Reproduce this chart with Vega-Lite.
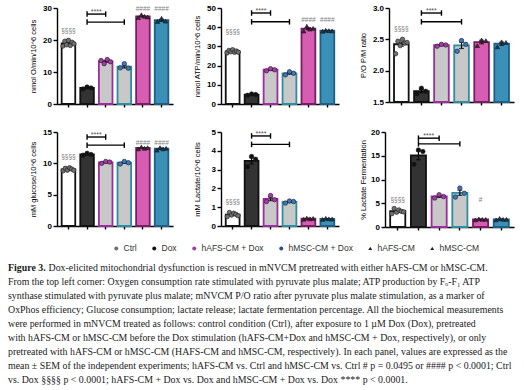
{
"$schema": "https://vega.github.io/schema/vega-lite/v6.json",
"background": "white",
"padding": {"left": 8, "top": 4, "right": 0, "bottom": 0},
"datasets": {
"d": [
{"p":"O2","k":"p","g":"Ctrl","v":18.1},{"p":"O2","k":"p","g":"Ctrl","v":19.6},{"p":"O2","k":"p","g":"Ctrl","v":18.5},{"p":"O2","k":"p","g":"Ctrl","v":19.9},{"p":"O2","k":"p","g":"Ctrl","v":18.3},{"p":"O2","k":"p","g":"Ctrl","v":19.3},{"p":"O2","k":"p","g":"Ctrl","v":18.8},
{"p":"O2","k":"p","g":"Dox","v":4.7},{"p":"O2","k":"p","g":"Dox","v":5.3},{"p":"O2","k":"p","g":"Dox","v":5.0},
{"p":"O2","k":"p","g":"hAFS-CM + Dox","v":13.6},{"p":"O2","k":"p","g":"hAFS-CM + Dox","v":12.6},{"p":"O2","k":"p","g":"hAFS-CM + Dox","v":13.9},{"p":"O2","k":"p","g":"hAFS-CM + Dox","v":13.2},
{"p":"O2","k":"p","g":"hMSC-CM + Dox","v":11.3},{"p":"O2","k":"p","g":"hMSC-CM + Dox","v":12.6},{"p":"O2","k":"p","g":"hMSC-CM + Dox","v":11.2},
{"p":"O2","k":"p","g":"hAFS-CM","v":27.0},{"p":"O2","k":"p","g":"hAFS-CM","v":27.9},{"p":"O2","k":"p","g":"hAFS-CM","v":27.4},{"p":"O2","k":"p","g":"hAFS-CM","v":27.2},
{"p":"O2","k":"p","g":"hMSC-CM","v":25.8},{"p":"O2","k":"p","g":"hMSC-CM","v":26.8},{"p":"O2","k":"p","g":"hMSC-CM","v":25.9},
{"p":"O2","k":"b","g":"Dox","g2":"hAFS-CM + Dox","v":28.1},{"p":"O2","k":"b","g":"Dox","g2":"hMSC-CM + Dox","v":25.6},
{"p":"O2","k":"s","g":"Ctrl","v":22.8,"t":"§§§§"},{"p":"O2","k":"s","g":"hAFS-CM","v":29.7,"t":"####"},{"p":"O2","k":"s","g":"hMSC-CM","v":29.7,"t":"####"},{"p":"O2","k":"a","g":"Dox","v":28.8,"t":"****"},

{"p":"ATP","k":"p","g":"Ctrl","v":26.6},{"p":"ATP","k":"p","g":"Ctrl","v":27.9},{"p":"ATP","k":"p","g":"Ctrl","v":27.2},{"p":"ATP","k":"p","g":"Ctrl","v":28.3},{"p":"ATP","k":"p","g":"Ctrl","v":26.9},{"p":"ATP","k":"p","g":"Ctrl","v":27.6},{"p":"ATP","k":"p","g":"Ctrl","v":27.0},
{"p":"ATP","k":"p","g":"Dox","v":4.5},{"p":"ATP","k":"p","g":"Dox","v":5.2},{"p":"ATP","k":"p","g":"Dox","v":4.9},
{"p":"ATP","k":"p","g":"hAFS-CM + Dox","v":17.3},{"p":"ATP","k":"p","g":"hAFS-CM + Dox","v":18.4},{"p":"ATP","k":"p","g":"hAFS-CM + Dox","v":17.8},
{"p":"ATP","k":"p","g":"hMSC-CM + Dox","v":15.2},{"p":"ATP","k":"p","g":"hMSC-CM + Dox","v":16.8},{"p":"ATP","k":"p","g":"hMSC-CM + Dox","v":16.0},
{"p":"ATP","k":"p","g":"hAFS-CM","v":38.0},{"p":"ATP","k":"p","g":"hAFS-CM","v":40.5},{"p":"ATP","k":"p","g":"hAFS-CM","v":39.0},{"p":"ATP","k":"p","g":"hAFS-CM","v":39.4},
{"p":"ATP","k":"p","g":"hMSC-CM","v":37.9},{"p":"ATP","k":"p","g":"hMSC-CM","v":38.4},{"p":"ATP","k":"p","g":"hMSC-CM","v":38.2},{"p":"ATP","k":"p","g":"hMSC-CM","v":38.1},
{"p":"ATP","k":"b","g":"Dox","g2":"hAFS-CM + Dox","v":47.4},{"p":"ATP","k":"b","g":"Dox","g2":"hMSC-CM + Dox","v":42.8},
{"p":"ATP","k":"s","g":"Ctrl","v":37.7,"t":"§§§§"},{"p":"ATP","k":"s","g":"hAFS-CM","v":44.0,"t":"####"},{"p":"ATP","k":"s","g":"hMSC-CM","v":44.0,"t":"####"},{"p":"ATP","k":"a","g":"Dox","v":48.5,"t":"****"},

{"p":"PO","k":"p","g":"Ctrl","v":2.27},{"p":"PO","k":"p","g":"Ctrl","v":2.47},{"p":"PO","k":"p","g":"Ctrl","v":2.40},{"p":"PO","k":"p","g":"Ctrl","v":2.50},{"p":"PO","k":"p","g":"Ctrl","v":2.44},{"p":"PO","k":"p","g":"Ctrl","v":2.45},
{"p":"PO","k":"p","g":"Dox","v":1.63},{"p":"PO","k":"p","g":"Dox","v":1.72},{"p":"PO","k":"p","g":"Dox","v":1.67},
{"p":"PO","k":"p","g":"hAFS-CM + Dox","v":2.39},{"p":"PO","k":"p","g":"hAFS-CM + Dox","v":2.42},{"p":"PO","k":"p","g":"hAFS-CM + Dox","v":2.41},
{"p":"PO","k":"p","g":"hMSC-CM + Dox","v":2.31},{"p":"PO","k":"p","g":"hMSC-CM + Dox","v":2.48},{"p":"PO","k":"p","g":"hMSC-CM + Dox","v":2.42},
{"p":"PO","k":"p","g":"hAFS-CM","v":2.40},{"p":"PO","k":"p","g":"hAFS-CM","v":2.49},{"p":"PO","k":"p","g":"hAFS-CM","v":2.48},
{"p":"PO","k":"p","g":"hMSC-CM","v":2.38},{"p":"PO","k":"p","g":"hMSC-CM","v":2.46},{"p":"PO","k":"p","g":"hMSC-CM","v":2.45},
{"p":"PO","k":"b","g":"Dox","g2":"hAFS-CM + Dox","v":2.92},{"p":"PO","k":"b","g":"Dox","g2":"hMSC-CM + Dox","v":2.78},
{"p":"PO","k":"s","g":"Ctrl","v":2.66,"t":"§§§§"},{"p":"PO","k":"a","g":"Dox","v":2.95,"t":"****"},

{"p":"GLC","k":"p","g":"Ctrl","v":8.8},{"p":"GLC","k":"p","g":"Ctrl","v":9.2},{"p":"GLC","k":"p","g":"Ctrl","v":8.9},{"p":"GLC","k":"p","g":"Ctrl","v":9.3},{"p":"GLC","k":"p","g":"Ctrl","v":9.1},{"p":"GLC","k":"p","g":"Ctrl","v":8.9},
{"p":"GLC","k":"p","g":"Dox","v":11.3},{"p":"GLC","k":"p","g":"Dox","v":11.6},{"p":"GLC","k":"p","g":"Dox","v":11.4},
{"p":"GLC","k":"p","g":"hAFS-CM + Dox","v":10.0},{"p":"GLC","k":"p","g":"hAFS-CM + Dox","v":10.3},{"p":"GLC","k":"p","g":"hAFS-CM + Dox","v":10.2},
{"p":"GLC","k":"p","g":"hMSC-CM + Dox","v":9.9},{"p":"GLC","k":"p","g":"hMSC-CM + Dox","v":10.3},{"p":"GLC","k":"p","g":"hMSC-CM + Dox","v":10.1},
{"p":"GLC","k":"p","g":"hAFS-CM","v":12.3},{"p":"GLC","k":"p","g":"hAFS-CM","v":12.6},{"p":"GLC","k":"p","g":"hAFS-CM","v":12.4},{"p":"GLC","k":"p","g":"hAFS-CM","v":12.5},
{"p":"GLC","k":"p","g":"hMSC-CM","v":12.1},{"p":"GLC","k":"p","g":"hMSC-CM","v":12.5},{"p":"GLC","k":"p","g":"hMSC-CM","v":12.3},{"p":"GLC","k":"p","g":"hMSC-CM","v":12.4},
{"p":"GLC","k":"b","g":"Dox","g2":"hAFS-CM + Dox","v":14.2},{"p":"GLC","k":"b","g":"Dox","g2":"hMSC-CM + Dox","v":12.9},
{"p":"GLC","k":"s","g":"Ctrl","v":11.0,"t":"§§§§"},{"p":"GLC","k":"s","g":"hAFS-CM","v":13.3,"t":"####"},{"p":"GLC","k":"s","g":"hMSC-CM","v":13.3,"t":"####"},{"p":"GLC","k":"a","g":"Dox","v":14.5,"t":"****"},

{"p":"LAC","k":"p","g":"Ctrl","v":0.50},{"p":"LAC","k":"p","g":"Ctrl","v":0.72},{"p":"LAC","k":"p","g":"Ctrl","v":0.58},{"p":"LAC","k":"p","g":"Ctrl","v":0.68},{"p":"LAC","k":"p","g":"Ctrl","v":0.62},{"p":"LAC","k":"p","g":"Ctrl","v":0.55},
{"p":"LAC","k":"p","g":"Dox","v":3.15},{"p":"LAC","k":"p","g":"Dox","v":3.70},{"p":"LAC","k":"p","g":"Dox","v":3.55},
{"p":"LAC","k":"p","g":"hAFS-CM + Dox","v":1.30},{"p":"LAC","k":"p","g":"hAFS-CM + Dox","v":1.62},{"p":"LAC","k":"p","g":"hAFS-CM + Dox","v":1.40},
{"p":"LAC","k":"p","g":"hMSC-CM + Dox","v":1.22},{"p":"LAC","k":"p","g":"hMSC-CM + Dox","v":1.33},{"p":"LAC","k":"p","g":"hMSC-CM + Dox","v":1.30},
{"p":"LAC","k":"p","g":"hAFS-CM","v":0.36},{"p":"LAC","k":"p","g":"hAFS-CM","v":0.42},{"p":"LAC","k":"p","g":"hAFS-CM","v":0.38},{"p":"LAC","k":"p","g":"hAFS-CM","v":0.40},
{"p":"LAC","k":"p","g":"hMSC-CM","v":0.35},{"p":"LAC","k":"p","g":"hMSC-CM","v":0.41},{"p":"LAC","k":"p","g":"hMSC-CM","v":0.38},{"p":"LAC","k":"p","g":"hMSC-CM","v":0.37},
{"p":"LAC","k":"b","g":"Dox","g2":"hAFS-CM + Dox","v":4.79},{"p":"LAC","k":"b","g":"Dox","g2":"hMSC-CM + Dox","v":4.34},
{"p":"LAC","k":"s","g":"Ctrl","v":1.29,"t":"§§§§"},{"p":"LAC","k":"a","g":"Dox","v":4.9,"t":"****"},

{"p":"PCT","k":"p","g":"Ctrl","v":2.8},{"p":"PCT","k":"p","g":"Ctrl","v":3.9},{"p":"PCT","k":"p","g":"Ctrl","v":3.1},{"p":"PCT","k":"p","g":"Ctrl","v":3.6},{"p":"PCT","k":"p","g":"Ctrl","v":3.3},{"p":"PCT","k":"p","g":"Ctrl","v":3.2},
{"p":"PCT","k":"p","g":"Dox","v":13.2},{"p":"PCT","k":"p","g":"Dox","v":16.2},{"p":"PCT","k":"p","g":"Dox","v":15.9},
{"p":"PCT","k":"p","g":"hAFS-CM + Dox","v":6.1},{"p":"PCT","k":"p","g":"hAFS-CM + Dox","v":6.8},{"p":"PCT","k":"p","g":"hAFS-CM + Dox","v":6.4},
{"p":"PCT","k":"p","g":"hMSC-CM + Dox","v":6.3},{"p":"PCT","k":"p","g":"hMSC-CM + Dox","v":8.2},{"p":"PCT","k":"p","g":"hMSC-CM + Dox","v":7.1},
{"p":"PCT","k":"p","g":"hAFS-CM","v":1.5},{"p":"PCT","k":"p","g":"hAFS-CM","v":1.7},{"p":"PCT","k":"p","g":"hAFS-CM","v":1.6},{"p":"PCT","k":"p","g":"hAFS-CM","v":1.6},
{"p":"PCT","k":"p","g":"hMSC-CM","v":1.5},{"p":"PCT","k":"p","g":"hMSC-CM","v":1.8},{"p":"PCT","k":"p","g":"hMSC-CM","v":1.6},{"p":"PCT","k":"p","g":"hMSC-CM","v":1.6},
{"p":"PCT","k":"b","g":"Dox","g2":"hAFS-CM + Dox","v":18.7},{"p":"PCT","k":"b","g":"Dox","g2":"hMSC-CM + Dox","v":17.5},
{"p":"PCT","k":"s","g":"Ctrl","v":5.6,"t":"§§§§"},{"p":"PCT","k":"s","g":"hAFS-CM","v":5.6,"t":"#"},{"p":"PCT","k":"a","g":"Dox","v":19.1,"t":"****"}
],
"c": [
{"n":1,"w":"b","s":"Figure 3."},
{"n":1,"w":"f","s":"Dox-elicited mitochondrial dysfunction is rescued in mNVCM pretreated with either hAFS-CM or hMSC-CM."},
{"n":2,"w":"r","s":"From the top left corner: Oxygen consumption rate stimulated with pyruvate plus malate; ATP production by Fₒ-F₁ ATP"},
{"n":3,"w":"r","s":"synthase stimulated with pyruvate plus malate; mNVCM P/O ratio after pyruvate plus malate stimulation, as a marker of"},
{"n":4,"w":"r","s":"OxPhos efficiency; Glucose consumption; lactate release; lactate fermentation percentage. All the biochemical measurements"},
{"n":5,"w":"r","s":"were performed in mNVCM treated as follows: control condition (Ctrl), after exposure to 1 µM Dox (Dox), pretreated"},
{"n":6,"w":"r","s":"with hAFS-CM or hMSC-CM before the Dox stimulation (hAFS-CM+Dox and hMSC-CM + Dox, respectively), or only"},
{"n":7,"w":"r","s":"pretreated with hAFS-CM or hMSC-CM (HAFS-CM and hMSC-CM, respectively). In each panel, values are expressed as the"},
{"n":8,"w":"r","s":"mean ± SEM of the independent experiments; hAFS-CM vs. Ctrl and hMSC-CM vs. Ctrl # p = 0.0495 or #### p < 0.0001; Ctrl"},
{"n":9,"w":"r","s":"vs. Dox §§§§ p < 0.0001; hAFS-CM + Dox vs. Dox and hMSC-CM + Dox vs. Dox **** p < 0.0001."}
]
},
"spacing": 10,
"resolve": {"scale": {"color": "independent", "shape": "independent"}, "legend": {"color": "independent", "shape": "independent"}},
"vconcat": [
{"spacing": 20, "vconcat": [
{"spacing": 20, "hconcat": [
{"width": 1, "height": 10, "data": {"values": [{}]}, "mark": {"type": "text", "text": ""}, "encoding": {}},
{"width": 116, "height": 96, "data": {"name": "d"}, "transform": [{"filter": "datum.p=='O2'"}],
 "resolve": {"scale": {"xOffset": "independent"}},
 "encoding": {"x": {"field": "g", "type": "nominal", "scale": {"domain": ["Ctrl","Dox","hAFS-CM + Dox","hMSC-CM + Dox","hAFS-CM","hMSC-CM"], "paddingInner": 0.27, "paddingOuter": 0.25}, "axis": {"labels": false, "title": null, "tickSize": 3}},
  "y": {"field": "v", "type": "quantitative", "scale": {"domain": [0, 30], "zero": false}, "axis": {"values": [0, 10, 20, 30], "titlePadding": 5}, "title": "nmol O/min/10^6 cells"}},
 "layer": [
  {"transform": [{"filter": "datum.k=='p'"}], "mark": {"type": "bar", "strokeWidth": 1.8}, "encoding": {"y": {"aggregate": "mean", "field": "v", "type": "quantitative", "scale": {"domain": [0, 30], "zero": false}, "axis": {"values": [0, 10, 20, 30], "titlePadding": 5}, "title": "nmol O/min/10^6 cells"}, "fill": {"field":"g","type":"nominal","scale":{"domain":["Ctrl","Dox","hAFS-CM + Dox","hMSC-CM + Dox","hAFS-CM","hMSC-CM"],"range":["#ffffff","#333333","#c8c8c8","#c8c8c8","#d65db1","#3b90b8"]},"legend":null}, "stroke": {"field":"g","type":"nominal","scale":{"domain":["Ctrl","Dox","hAFS-CM + Dox","hMSC-CM + Dox","hAFS-CM","hMSC-CM"],"range":["#111111","#111111","#9c2c9f","#2b8ea3","#7a1d66","#1e5f85"]},"legend":null}}},
  {"transform": [{"filter": "datum.k=='p'"}], "mark": {"type": "errorbar", "extent": "stderr", "ticks": true, "size": 5, "thickness": 1.2, "color": "#000"}},
  {"transform":[{"filter":"datum.k=='p'"},{"joinaggregate":[{"op":"count","as":"n"}],"groupby":["g"]},{"filter":"datum.n==3"},{"window":[{"op":"row_number","as":"r"}],"groupby":["g"]}],"mark":{"type":"point","filled":true,"size":20,"stroke":"#1a1a1a","strokeWidth":0.6,"opacity":1},"encoding":{"xOffset":{"field":"r","type":"ordinal","scale":{"type":"point","padding":0.7}},"color":{"field":"g","type":"nominal","scale":{"domain":["Ctrl","Dox","hAFS-CM + Dox","hMSC-CM + Dox","hAFS-CM","hMSC-CM"],"range":["#707070","#111111","#a63aa9","#3b78c0","#4a1f3f","#1c3553"]},"legend":null},"shape":{"field":"g","type":"nominal","scale":{"domain":["Ctrl","Dox","hAFS-CM + Dox","hMSC-CM + Dox","hAFS-CM","hMSC-CM"],"range":["circle","circle","circle","circle","triangle-up","triangle-up"]},"legend":null}}},
  {"transform":[{"filter":"datum.k=='p'"},{"joinaggregate":[{"op":"count","as":"n"}],"groupby":["g"]},{"filter":"datum.n==4"},{"window":[{"op":"row_number","as":"r"}],"groupby":["g"]}],"mark":{"type":"point","filled":true,"size":20,"stroke":"#1a1a1a","strokeWidth":0.6,"opacity":1},"encoding":{"xOffset":{"field":"r","type":"ordinal","scale":{"type":"point","padding":0.7}},"color":{"field":"g","type":"nominal","scale":{"domain":["Ctrl","Dox","hAFS-CM + Dox","hMSC-CM + Dox","hAFS-CM","hMSC-CM"],"range":["#707070","#111111","#a63aa9","#3b78c0","#4a1f3f","#1c3553"]},"legend":null},"shape":{"field":"g","type":"nominal","scale":{"domain":["Ctrl","Dox","hAFS-CM + Dox","hMSC-CM + Dox","hAFS-CM","hMSC-CM"],"range":["circle","circle","circle","circle","triangle-up","triangle-up"]},"legend":null}}},
  {"transform":[{"filter":"datum.k=='p'"},{"joinaggregate":[{"op":"count","as":"n"}],"groupby":["g"]},{"filter":"datum.n>=5"},{"window":[{"op":"row_number","as":"r"}],"groupby":["g"]}],"mark":{"type":"point","filled":true,"size":20,"stroke":"#1a1a1a","strokeWidth":0.6,"opacity":1},"encoding":{"xOffset":{"field":"r","type":"ordinal","scale":{"type":"point","padding":0.7}},"color":{"field":"g","type":"nominal","scale":{"domain":["Ctrl","Dox","hAFS-CM + Dox","hMSC-CM + Dox","hAFS-CM","hMSC-CM"],"range":["#707070","#111111","#a63aa9","#3b78c0","#4a1f3f","#1c3553"]},"legend":null},"shape":{"field":"g","type":"nominal","scale":{"domain":["Ctrl","Dox","hAFS-CM + Dox","hMSC-CM + Dox","hAFS-CM","hMSC-CM"],"range":["circle","circle","circle","circle","triangle-up","triangle-up"]},"legend":null}}},
  {"transform": [{"filter": "datum.k=='b'"}], "mark": {"type": "rule", "color": "#000", "strokeWidth": 1.4}, "encoding": {"x": {"field": "g", "type": "nominal", "bandPosition": 0.5}, "x2": {"field": "g2", "bandPosition": 0.5}}},
  {"transform": [{"filter": "datum.k=='b'"}], "mark": {"type": "point", "shape": "M0,-1V1", "size": 30, "strokeWidth": 1.4, "color": "#000", "filled": false, "opacity": 1}},
  {"transform": [{"filter": "datum.k=='b'"}], "mark": {"type": "point", "shape": "M0,-1V1", "size": 30, "strokeWidth": 1.4, "color": "#000", "filled": false, "opacity": 1}, "encoding": {"x": {"field": "g2", "type": "nominal"}}},
  {"transform": [{"filter": "datum.k=='s'"}], "mark": {"type": "text", "fontSize": 6.5, "color": "#808080", "baseline": "middle"}, "encoding": {"text": {"field": "t"}}},
  {"transform": [{"filter": "datum.k=='a'"}], "mark": {"type": "text", "fontSize": 7, "color": "#505050", "baseline": "middle"}, "encoding": {"x": {"field": "g", "type": "nominal", "bandPosition": 1.18}, "text": {"field": "t"}}}
 ]},
{"width": 118, "height": 96, "data": {"name": "d"}, "transform": [{"filter": "datum.p=='ATP'"}],
 "resolve": {"scale": {"xOffset": "independent"}},
 "encoding": {"x": {"field": "g", "type": "nominal", "scale": {"domain": ["Ctrl","Dox","hAFS-CM + Dox","hMSC-CM + Dox","hAFS-CM","hMSC-CM"], "paddingInner": 0.27, "paddingOuter": 0.25}, "axis": {"labels": false, "title": null, "tickSize": 3}},
  "y": {"field": "v", "type": "quantitative", "scale": {"domain": [0, 50], "zero": false}, "axis": {"values": [0, 10, 20, 30, 40, 50], "titlePadding": 5}, "title": "nmol ATP/min/10^6 cells"}},
 "layer": [
  {"transform": [{"filter": "datum.k=='p'"}], "mark": {"type": "bar", "strokeWidth": 1.8}, "encoding": {"y": {"aggregate": "mean", "field": "v", "type": "quantitative", "scale": {"domain": [0, 50], "zero": false}, "axis": {"values": [0, 10, 20, 30, 40, 50], "titlePadding": 5}, "title": "nmol ATP/min/10^6 cells"}, "fill": {"field":"g","type":"nominal","scale":{"domain":["Ctrl","Dox","hAFS-CM + Dox","hMSC-CM + Dox","hAFS-CM","hMSC-CM"],"range":["#ffffff","#333333","#c8c8c8","#c8c8c8","#d65db1","#3b90b8"]},"legend":null}, "stroke": {"field":"g","type":"nominal","scale":{"domain":["Ctrl","Dox","hAFS-CM + Dox","hMSC-CM + Dox","hAFS-CM","hMSC-CM"],"range":["#111111","#111111","#9c2c9f","#2b8ea3","#7a1d66","#1e5f85"]},"legend":null}}},
  {"transform": [{"filter": "datum.k=='p'"}], "mark": {"type": "errorbar", "extent": "stderr", "ticks": true, "size": 5, "thickness": 1.2, "color": "#000"}},
  {"transform":[{"filter":"datum.k=='p'"},{"joinaggregate":[{"op":"count","as":"n"}],"groupby":["g"]},{"filter":"datum.n==3"},{"window":[{"op":"row_number","as":"r"}],"groupby":["g"]}],"mark":{"type":"point","filled":true,"size":20,"stroke":"#1a1a1a","strokeWidth":0.6,"opacity":1},"encoding":{"xOffset":{"field":"r","type":"ordinal","scale":{"type":"point","padding":0.7}},"color":{"field":"g","type":"nominal","scale":{"domain":["Ctrl","Dox","hAFS-CM + Dox","hMSC-CM + Dox","hAFS-CM","hMSC-CM"],"range":["#707070","#111111","#a63aa9","#3b78c0","#4a1f3f","#1c3553"]},"legend":null},"shape":{"field":"g","type":"nominal","scale":{"domain":["Ctrl","Dox","hAFS-CM + Dox","hMSC-CM + Dox","hAFS-CM","hMSC-CM"],"range":["circle","circle","circle","circle","triangle-up","triangle-up"]},"legend":null}}},
  {"transform":[{"filter":"datum.k=='p'"},{"joinaggregate":[{"op":"count","as":"n"}],"groupby":["g"]},{"filter":"datum.n==4"},{"window":[{"op":"row_number","as":"r"}],"groupby":["g"]}],"mark":{"type":"point","filled":true,"size":20,"stroke":"#1a1a1a","strokeWidth":0.6,"opacity":1},"encoding":{"xOffset":{"field":"r","type":"ordinal","scale":{"type":"point","padding":0.7}},"color":{"field":"g","type":"nominal","scale":{"domain":["Ctrl","Dox","hAFS-CM + Dox","hMSC-CM + Dox","hAFS-CM","hMSC-CM"],"range":["#707070","#111111","#a63aa9","#3b78c0","#4a1f3f","#1c3553"]},"legend":null},"shape":{"field":"g","type":"nominal","scale":{"domain":["Ctrl","Dox","hAFS-CM + Dox","hMSC-CM + Dox","hAFS-CM","hMSC-CM"],"range":["circle","circle","circle","circle","triangle-up","triangle-up"]},"legend":null}}},
  {"transform":[{"filter":"datum.k=='p'"},{"joinaggregate":[{"op":"count","as":"n"}],"groupby":["g"]},{"filter":"datum.n>=5"},{"window":[{"op":"row_number","as":"r"}],"groupby":["g"]}],"mark":{"type":"point","filled":true,"size":20,"stroke":"#1a1a1a","strokeWidth":0.6,"opacity":1},"encoding":{"xOffset":{"field":"r","type":"ordinal","scale":{"type":"point","padding":0.7}},"color":{"field":"g","type":"nominal","scale":{"domain":["Ctrl","Dox","hAFS-CM + Dox","hMSC-CM + Dox","hAFS-CM","hMSC-CM"],"range":["#707070","#111111","#a63aa9","#3b78c0","#4a1f3f","#1c3553"]},"legend":null},"shape":{"field":"g","type":"nominal","scale":{"domain":["Ctrl","Dox","hAFS-CM + Dox","hMSC-CM + Dox","hAFS-CM","hMSC-CM"],"range":["circle","circle","circle","circle","triangle-up","triangle-up"]},"legend":null}}},
  {"transform": [{"filter": "datum.k=='b'"}], "mark": {"type": "rule", "color": "#000", "strokeWidth": 1.4}, "encoding": {"x": {"field": "g", "type": "nominal", "bandPosition": 0.5}, "x2": {"field": "g2", "bandPosition": 0.5}}},
  {"transform": [{"filter": "datum.k=='b'"}], "mark": {"type": "point", "shape": "M0,-1V1", "size": 30, "strokeWidth": 1.4, "color": "#000", "filled": false, "opacity": 1}},
  {"transform": [{"filter": "datum.k=='b'"}], "mark": {"type": "point", "shape": "M0,-1V1", "size": 30, "strokeWidth": 1.4, "color": "#000", "filled": false, "opacity": 1}, "encoding": {"x": {"field": "g2", "type": "nominal"}}},
  {"transform": [{"filter": "datum.k=='s'"}], "mark": {"type": "text", "fontSize": 6.5, "color": "#808080", "baseline": "middle"}, "encoding": {"text": {"field": "t"}}},
  {"transform": [{"filter": "datum.k=='a'"}], "mark": {"type": "text", "fontSize": 7, "color": "#505050", "baseline": "middle"}, "encoding": {"x": {"field": "g", "type": "nominal", "bandPosition": 1.18}, "text": {"field": "t"}}}
 ]},
{"width": 125, "height": 94, "data": {"name": "d"}, "transform": [{"filter": "datum.p=='PO'"}],
 "resolve": {"scale": {"xOffset": "independent"}},
 "encoding": {"x": {"field": "g", "type": "nominal", "scale": {"domain": ["Ctrl","Dox","hAFS-CM + Dox","hMSC-CM + Dox","hAFS-CM","hMSC-CM"], "paddingInner": 0.27, "paddingOuter": 0.25}, "axis": {"labels": false, "title": null, "tickSize": 3}},
  "y": {"field": "v", "type": "quantitative", "scale": {"domain": [1.5, 3.0], "zero": false}, "axis": {"values": [1.5, 2.0, 2.5, 3.0], "format": ".1f", "titlePadding": 5}, "title": "P/O P/M ratio"}},
 "layer": [
  {"transform": [{"filter": "datum.k=='p'"}], "mark": {"type": "bar", "strokeWidth": 1.8}, "encoding": {"y": {"aggregate": "mean", "field": "v", "type": "quantitative", "scale": {"domain": [1.5, 3.0], "zero": false}, "axis": {"values": [1.5, 2.0, 2.5, 3.0], "format": ".1f", "titlePadding": 5}, "title": "P/O P/M ratio"}, "fill": {"field":"g","type":"nominal","scale":{"domain":["Ctrl","Dox","hAFS-CM + Dox","hMSC-CM + Dox","hAFS-CM","hMSC-CM"],"range":["#ffffff","#333333","#c8c8c8","#c8c8c8","#d65db1","#3b90b8"]},"legend":null}, "stroke": {"field":"g","type":"nominal","scale":{"domain":["Ctrl","Dox","hAFS-CM + Dox","hMSC-CM + Dox","hAFS-CM","hMSC-CM"],"range":["#111111","#111111","#9c2c9f","#2b8ea3","#7a1d66","#1e5f85"]},"legend":null}}},
  {"transform": [{"filter": "datum.k=='p'"}], "mark": {"type": "errorbar", "extent": "stderr", "ticks": true, "size": 5, "thickness": 1.2, "color": "#000"}},
  {"transform":[{"filter":"datum.k=='p'"},{"joinaggregate":[{"op":"count","as":"n"}],"groupby":["g"]},{"filter":"datum.n==3"},{"window":[{"op":"row_number","as":"r"}],"groupby":["g"]}],"mark":{"type":"point","filled":true,"size":20,"stroke":"#1a1a1a","strokeWidth":0.6,"opacity":1},"encoding":{"xOffset":{"field":"r","type":"ordinal","scale":{"type":"point","padding":0.7}},"color":{"field":"g","type":"nominal","scale":{"domain":["Ctrl","Dox","hAFS-CM + Dox","hMSC-CM + Dox","hAFS-CM","hMSC-CM"],"range":["#707070","#111111","#a63aa9","#3b78c0","#4a1f3f","#1c3553"]},"legend":null},"shape":{"field":"g","type":"nominal","scale":{"domain":["Ctrl","Dox","hAFS-CM + Dox","hMSC-CM + Dox","hAFS-CM","hMSC-CM"],"range":["circle","circle","circle","circle","triangle-up","triangle-up"]},"legend":null}}},
  {"transform":[{"filter":"datum.k=='p'"},{"joinaggregate":[{"op":"count","as":"n"}],"groupby":["g"]},{"filter":"datum.n>=5"},{"window":[{"op":"row_number","as":"r"}],"groupby":["g"]}],"mark":{"type":"point","filled":true,"size":20,"stroke":"#1a1a1a","strokeWidth":0.6,"opacity":1},"encoding":{"xOffset":{"field":"r","type":"ordinal","scale":{"type":"point","padding":0.7}},"color":{"field":"g","type":"nominal","scale":{"domain":["Ctrl","Dox","hAFS-CM + Dox","hMSC-CM + Dox","hAFS-CM","hMSC-CM"],"range":["#707070","#111111","#a63aa9","#3b78c0","#4a1f3f","#1c3553"]},"legend":null},"shape":{"field":"g","type":"nominal","scale":{"domain":["Ctrl","Dox","hAFS-CM + Dox","hMSC-CM + Dox","hAFS-CM","hMSC-CM"],"range":["circle","circle","circle","circle","triangle-up","triangle-up"]},"legend":null}}},
  {"transform": [{"filter": "datum.k=='b'"}], "mark": {"type": "rule", "color": "#000", "strokeWidth": 1.4}, "encoding": {"x": {"field": "g", "type": "nominal", "bandPosition": 0.5}, "x2": {"field": "g2", "bandPosition": 0.5}}},
  {"transform": [{"filter": "datum.k=='b'"}], "mark": {"type": "point", "shape": "M0,-1V1", "size": 30, "strokeWidth": 1.4, "color": "#000", "filled": false, "opacity": 1}},
  {"transform": [{"filter": "datum.k=='b'"}], "mark": {"type": "point", "shape": "M0,-1V1", "size": 30, "strokeWidth": 1.4, "color": "#000", "filled": false, "opacity": 1}, "encoding": {"x": {"field": "g2", "type": "nominal"}}},
  {"transform": [{"filter": "datum.k=='s'"}], "mark": {"type": "text", "fontSize": 6.5, "color": "#808080", "baseline": "middle"}, "encoding": {"text": {"field": "t"}}},
  {"transform": [{"filter": "datum.k=='a'"}], "mark": {"type": "text", "fontSize": 7, "color": "#505050", "baseline": "middle"}, "encoding": {"x": {"field": "g", "type": "nominal", "bandPosition": 1.18}, "text": {"field": "t"}}}
 ]}
]},
{"spacing": 20, "hconcat": [
{"width": 1, "height": 10, "data": {"values": [{}]}, "mark": {"type": "text", "text": ""}, "encoding": {}},
{"width": 116, "height": 94, "data": {"name": "d"}, "transform": [{"filter": "datum.p=='GLC'"}],
 "resolve": {"scale": {"xOffset": "independent"}},
 "encoding": {"x": {"field": "g", "type": "nominal", "scale": {"domain": ["Ctrl","Dox","hAFS-CM + Dox","hMSC-CM + Dox","hAFS-CM","hMSC-CM"], "paddingInner": 0.27, "paddingOuter": 0.25}, "axis": {"labels": false, "title": null, "tickSize": 3}},
  "y": {"field": "v", "type": "quantitative", "scale": {"domain": [0, 15], "zero": false}, "axis": {"values": [0, 5, 10, 15], "titlePadding": 5}, "title": "mM glucose/10^6 cells"}},
 "layer": [
  {"transform": [{"filter": "datum.k=='p'"}], "mark": {"type": "bar", "strokeWidth": 1.8}, "encoding": {"y": {"aggregate": "mean", "field": "v", "type": "quantitative", "scale": {"domain": [0, 15], "zero": false}, "axis": {"values": [0, 5, 10, 15], "titlePadding": 5}, "title": "mM glucose/10^6 cells"}, "fill": {"field":"g","type":"nominal","scale":{"domain":["Ctrl","Dox","hAFS-CM + Dox","hMSC-CM + Dox","hAFS-CM","hMSC-CM"],"range":["#ffffff","#333333","#c8c8c8","#c8c8c8","#d65db1","#3b90b8"]},"legend":null}, "stroke": {"field":"g","type":"nominal","scale":{"domain":["Ctrl","Dox","hAFS-CM + Dox","hMSC-CM + Dox","hAFS-CM","hMSC-CM"],"range":["#111111","#111111","#9c2c9f","#2b8ea3","#7a1d66","#1e5f85"]},"legend":null}}},
  {"transform": [{"filter": "datum.k=='p'"}], "mark": {"type": "errorbar", "extent": "stderr", "ticks": true, "size": 5, "thickness": 1.2, "color": "#000"}},
  {"transform":[{"filter":"datum.k=='p'"},{"joinaggregate":[{"op":"count","as":"n"}],"groupby":["g"]},{"filter":"datum.n==3"},{"window":[{"op":"row_number","as":"r"}],"groupby":["g"]}],"mark":{"type":"point","filled":true,"size":20,"stroke":"#1a1a1a","strokeWidth":0.6,"opacity":1},"encoding":{"xOffset":{"field":"r","type":"ordinal","scale":{"type":"point","padding":0.7}},"color":{"field":"g","type":"nominal","scale":{"domain":["Ctrl","Dox","hAFS-CM + Dox","hMSC-CM + Dox","hAFS-CM","hMSC-CM"],"range":["#707070","#111111","#a63aa9","#3b78c0","#4a1f3f","#1c3553"]},"legend":null},"shape":{"field":"g","type":"nominal","scale":{"domain":["Ctrl","Dox","hAFS-CM + Dox","hMSC-CM + Dox","hAFS-CM","hMSC-CM"],"range":["circle","circle","circle","circle","triangle-up","triangle-up"]},"legend":null}}},
  {"transform":[{"filter":"datum.k=='p'"},{"joinaggregate":[{"op":"count","as":"n"}],"groupby":["g"]},{"filter":"datum.n==4"},{"window":[{"op":"row_number","as":"r"}],"groupby":["g"]}],"mark":{"type":"point","filled":true,"size":20,"stroke":"#1a1a1a","strokeWidth":0.6,"opacity":1},"encoding":{"xOffset":{"field":"r","type":"ordinal","scale":{"type":"point","padding":0.7}},"color":{"field":"g","type":"nominal","scale":{"domain":["Ctrl","Dox","hAFS-CM + Dox","hMSC-CM + Dox","hAFS-CM","hMSC-CM"],"range":["#707070","#111111","#a63aa9","#3b78c0","#4a1f3f","#1c3553"]},"legend":null},"shape":{"field":"g","type":"nominal","scale":{"domain":["Ctrl","Dox","hAFS-CM + Dox","hMSC-CM + Dox","hAFS-CM","hMSC-CM"],"range":["circle","circle","circle","circle","triangle-up","triangle-up"]},"legend":null}}},
  {"transform":[{"filter":"datum.k=='p'"},{"joinaggregate":[{"op":"count","as":"n"}],"groupby":["g"]},{"filter":"datum.n>=5"},{"window":[{"op":"row_number","as":"r"}],"groupby":["g"]}],"mark":{"type":"point","filled":true,"size":20,"stroke":"#1a1a1a","strokeWidth":0.6,"opacity":1},"encoding":{"xOffset":{"field":"r","type":"ordinal","scale":{"type":"point","padding":0.7}},"color":{"field":"g","type":"nominal","scale":{"domain":["Ctrl","Dox","hAFS-CM + Dox","hMSC-CM + Dox","hAFS-CM","hMSC-CM"],"range":["#707070","#111111","#a63aa9","#3b78c0","#4a1f3f","#1c3553"]},"legend":null},"shape":{"field":"g","type":"nominal","scale":{"domain":["Ctrl","Dox","hAFS-CM + Dox","hMSC-CM + Dox","hAFS-CM","hMSC-CM"],"range":["circle","circle","circle","circle","triangle-up","triangle-up"]},"legend":null}}},
  {"transform": [{"filter": "datum.k=='b'"}], "mark": {"type": "rule", "color": "#000", "strokeWidth": 1.4}, "encoding": {"x": {"field": "g", "type": "nominal", "bandPosition": 0.5}, "x2": {"field": "g2", "bandPosition": 0.5}}},
  {"transform": [{"filter": "datum.k=='b'"}], "mark": {"type": "point", "shape": "M0,-1V1", "size": 30, "strokeWidth": 1.4, "color": "#000", "filled": false, "opacity": 1}},
  {"transform": [{"filter": "datum.k=='b'"}], "mark": {"type": "point", "shape": "M0,-1V1", "size": 30, "strokeWidth": 1.4, "color": "#000", "filled": false, "opacity": 1}, "encoding": {"x": {"field": "g2", "type": "nominal"}}},
  {"transform": [{"filter": "datum.k=='s'"}], "mark": {"type": "text", "fontSize": 6.5, "color": "#808080", "baseline": "middle"}, "encoding": {"text": {"field": "t"}}},
  {"transform": [{"filter": "datum.k=='a'"}], "mark": {"type": "text", "fontSize": 7, "color": "#505050", "baseline": "middle"}, "encoding": {"x": {"field": "g", "type": "nominal", "bandPosition": 1.18}, "text": {"field": "t"}}}
 ]},
{"width": 118, "height": 94, "data": {"name": "d"}, "transform": [{"filter": "datum.p=='LAC'"}],
 "resolve": {"scale": {"xOffset": "independent"}},
 "encoding": {"x": {"field": "g", "type": "nominal", "scale": {"domain": ["Ctrl","Dox","hAFS-CM + Dox","hMSC-CM + Dox","hAFS-CM","hMSC-CM"], "paddingInner": 0.27, "paddingOuter": 0.25}, "axis": {"labels": false, "title": null, "tickSize": 3}},
  "y": {"field": "v", "type": "quantitative", "scale": {"domain": [0, 5], "zero": false}, "axis": {"values": [0, 1, 2, 3, 4, 5], "titlePadding": 9.5}, "title": "mM Lactate/10^6 cells"}},
 "layer": [
  {"transform": [{"filter": "datum.k=='p'"}], "mark": {"type": "bar", "strokeWidth": 1.8}, "encoding": {"y": {"aggregate": "mean", "field": "v", "type": "quantitative", "scale": {"domain": [0, 5], "zero": false}, "axis": {"values": [0, 1, 2, 3, 4, 5], "titlePadding": 9.5}, "title": "mM Lactate/10^6 cells"}, "fill": {"field":"g","type":"nominal","scale":{"domain":["Ctrl","Dox","hAFS-CM + Dox","hMSC-CM + Dox","hAFS-CM","hMSC-CM"],"range":["#ffffff","#333333","#c8c8c8","#c8c8c8","#d65db1","#3b90b8"]},"legend":null}, "stroke": {"field":"g","type":"nominal","scale":{"domain":["Ctrl","Dox","hAFS-CM + Dox","hMSC-CM + Dox","hAFS-CM","hMSC-CM"],"range":["#111111","#111111","#9c2c9f","#2b8ea3","#7a1d66","#1e5f85"]},"legend":null}}},
  {"transform": [{"filter": "datum.k=='p'"}], "mark": {"type": "errorbar", "extent": "stderr", "ticks": true, "size": 5, "thickness": 1.2, "color": "#000"}},
  {"transform":[{"filter":"datum.k=='p'"},{"joinaggregate":[{"op":"count","as":"n"}],"groupby":["g"]},{"filter":"datum.n==3"},{"window":[{"op":"row_number","as":"r"}],"groupby":["g"]}],"mark":{"type":"point","filled":true,"size":20,"stroke":"#1a1a1a","strokeWidth":0.6,"opacity":1},"encoding":{"xOffset":{"field":"r","type":"ordinal","scale":{"type":"point","padding":0.7}},"color":{"field":"g","type":"nominal","scale":{"domain":["Ctrl","Dox","hAFS-CM + Dox","hMSC-CM + Dox","hAFS-CM","hMSC-CM"],"range":["#707070","#111111","#a63aa9","#3b78c0","#4a1f3f","#1c3553"]},"legend":null},"shape":{"field":"g","type":"nominal","scale":{"domain":["Ctrl","Dox","hAFS-CM + Dox","hMSC-CM + Dox","hAFS-CM","hMSC-CM"],"range":["circle","circle","circle","circle","triangle-up","triangle-up"]},"legend":null}}},
  {"transform":[{"filter":"datum.k=='p'"},{"joinaggregate":[{"op":"count","as":"n"}],"groupby":["g"]},{"filter":"datum.n==4"},{"window":[{"op":"row_number","as":"r"}],"groupby":["g"]}],"mark":{"type":"point","filled":true,"size":20,"stroke":"#1a1a1a","strokeWidth":0.6,"opacity":1},"encoding":{"xOffset":{"field":"r","type":"ordinal","scale":{"type":"point","padding":0.7}},"color":{"field":"g","type":"nominal","scale":{"domain":["Ctrl","Dox","hAFS-CM + Dox","hMSC-CM + Dox","hAFS-CM","hMSC-CM"],"range":["#707070","#111111","#a63aa9","#3b78c0","#4a1f3f","#1c3553"]},"legend":null},"shape":{"field":"g","type":"nominal","scale":{"domain":["Ctrl","Dox","hAFS-CM + Dox","hMSC-CM + Dox","hAFS-CM","hMSC-CM"],"range":["circle","circle","circle","circle","triangle-up","triangle-up"]},"legend":null}}},
  {"transform":[{"filter":"datum.k=='p'"},{"joinaggregate":[{"op":"count","as":"n"}],"groupby":["g"]},{"filter":"datum.n>=5"},{"window":[{"op":"row_number","as":"r"}],"groupby":["g"]}],"mark":{"type":"point","filled":true,"size":20,"stroke":"#1a1a1a","strokeWidth":0.6,"opacity":1},"encoding":{"xOffset":{"field":"r","type":"ordinal","scale":{"type":"point","padding":0.7}},"color":{"field":"g","type":"nominal","scale":{"domain":["Ctrl","Dox","hAFS-CM + Dox","hMSC-CM + Dox","hAFS-CM","hMSC-CM"],"range":["#707070","#111111","#a63aa9","#3b78c0","#4a1f3f","#1c3553"]},"legend":null},"shape":{"field":"g","type":"nominal","scale":{"domain":["Ctrl","Dox","hAFS-CM + Dox","hMSC-CM + Dox","hAFS-CM","hMSC-CM"],"range":["circle","circle","circle","circle","triangle-up","triangle-up"]},"legend":null}}},
  {"transform": [{"filter": "datum.k=='b'"}], "mark": {"type": "rule", "color": "#000", "strokeWidth": 1.4}, "encoding": {"x": {"field": "g", "type": "nominal", "bandPosition": 0.5}, "x2": {"field": "g2", "bandPosition": 0.5}}},
  {"transform": [{"filter": "datum.k=='b'"}], "mark": {"type": "point", "shape": "M0,-1V1", "size": 30, "strokeWidth": 1.4, "color": "#000", "filled": false, "opacity": 1}},
  {"transform": [{"filter": "datum.k=='b'"}], "mark": {"type": "point", "shape": "M0,-1V1", "size": 30, "strokeWidth": 1.4, "color": "#000", "filled": false, "opacity": 1}, "encoding": {"x": {"field": "g2", "type": "nominal"}}},
  {"transform": [{"filter": "datum.k=='s'"}], "mark": {"type": "text", "fontSize": 6.5, "color": "#808080", "baseline": "middle"}, "encoding": {"text": {"field": "t"}}},
  {"transform": [{"filter": "datum.k=='a'"}], "mark": {"type": "text", "fontSize": 7, "color": "#505050", "baseline": "middle"}, "encoding": {"x": {"field": "g", "type": "nominal", "bandPosition": 1.18}, "text": {"field": "t"}}}
 ]},
{"width": 129, "height": 95, "data": {"name": "d"}, "transform": [{"filter": "datum.p=='PCT'"}],
 "resolve": {"scale": {"xOffset": "independent"}},
 "encoding": {"x": {"field": "g", "type": "nominal", "scale": {"domain": ["Ctrl","Dox","hAFS-CM + Dox","hMSC-CM + Dox","hAFS-CM","hMSC-CM"], "paddingInner": 0.27, "paddingOuter": 0.25}, "axis": {"labels": false, "title": null, "tickSize": 3}},
  "y": {"field": "v", "type": "quantitative", "scale": {"domain": [0, 20], "zero": false}, "axis": {"values": [0, 5, 10, 15, 20], "titlePadding": 3}, "title": "% Lactate Fermentation"}},
 "layer": [
  {"transform": [{"filter": "datum.k=='p'"}], "mark": {"type": "bar", "strokeWidth": 1.8}, "encoding": {"y": {"aggregate": "mean", "field": "v", "type": "quantitative", "scale": {"domain": [0, 20], "zero": false}, "axis": {"values": [0, 5, 10, 15, 20], "titlePadding": 3}, "title": "% Lactate Fermentation"}, "fill": {"field":"g","type":"nominal","scale":{"domain":["Ctrl","Dox","hAFS-CM + Dox","hMSC-CM + Dox","hAFS-CM","hMSC-CM"],"range":["#ffffff","#333333","#c8c8c8","#c8c8c8","#d65db1","#3b90b8"]},"legend":null}, "stroke": {"field":"g","type":"nominal","scale":{"domain":["Ctrl","Dox","hAFS-CM + Dox","hMSC-CM + Dox","hAFS-CM","hMSC-CM"],"range":["#111111","#111111","#9c2c9f","#2b8ea3","#7a1d66","#1e5f85"]},"legend":null}}},
  {"transform": [{"filter": "datum.k=='p'"}], "mark": {"type": "errorbar", "extent": "stderr", "ticks": true, "size": 5, "thickness": 1.2, "color": "#000"}},
  {"transform":[{"filter":"datum.k=='p'"},{"joinaggregate":[{"op":"count","as":"n"}],"groupby":["g"]},{"filter":"datum.n==3"},{"window":[{"op":"row_number","as":"r"}],"groupby":["g"]}],"mark":{"type":"point","filled":true,"size":20,"stroke":"#1a1a1a","strokeWidth":0.6,"opacity":1},"encoding":{"xOffset":{"field":"r","type":"ordinal","scale":{"type":"point","padding":0.7}},"color":{"field":"g","type":"nominal","scale":{"domain":["Ctrl","Dox","hAFS-CM + Dox","hMSC-CM + Dox","hAFS-CM","hMSC-CM"],"range":["#707070","#111111","#a63aa9","#3b78c0","#4a1f3f","#1c3553"]},"legend":null},"shape":{"field":"g","type":"nominal","scale":{"domain":["Ctrl","Dox","hAFS-CM + Dox","hMSC-CM + Dox","hAFS-CM","hMSC-CM"],"range":["circle","circle","circle","circle","triangle-up","triangle-up"]},"legend":null}}},
  {"transform":[{"filter":"datum.k=='p'"},{"joinaggregate":[{"op":"count","as":"n"}],"groupby":["g"]},{"filter":"datum.n==4"},{"window":[{"op":"row_number","as":"r"}],"groupby":["g"]}],"mark":{"type":"point","filled":true,"size":20,"stroke":"#1a1a1a","strokeWidth":0.6,"opacity":1},"encoding":{"xOffset":{"field":"r","type":"ordinal","scale":{"type":"point","padding":0.7}},"color":{"field":"g","type":"nominal","scale":{"domain":["Ctrl","Dox","hAFS-CM + Dox","hMSC-CM + Dox","hAFS-CM","hMSC-CM"],"range":["#707070","#111111","#a63aa9","#3b78c0","#4a1f3f","#1c3553"]},"legend":null},"shape":{"field":"g","type":"nominal","scale":{"domain":["Ctrl","Dox","hAFS-CM + Dox","hMSC-CM + Dox","hAFS-CM","hMSC-CM"],"range":["circle","circle","circle","circle","triangle-up","triangle-up"]},"legend":null}}},
  {"transform":[{"filter":"datum.k=='p'"},{"joinaggregate":[{"op":"count","as":"n"}],"groupby":["g"]},{"filter":"datum.n>=5"},{"window":[{"op":"row_number","as":"r"}],"groupby":["g"]}],"mark":{"type":"point","filled":true,"size":20,"stroke":"#1a1a1a","strokeWidth":0.6,"opacity":1},"encoding":{"xOffset":{"field":"r","type":"ordinal","scale":{"type":"point","padding":0.7}},"color":{"field":"g","type":"nominal","scale":{"domain":["Ctrl","Dox","hAFS-CM + Dox","hMSC-CM + Dox","hAFS-CM","hMSC-CM"],"range":["#707070","#111111","#a63aa9","#3b78c0","#4a1f3f","#1c3553"]},"legend":null},"shape":{"field":"g","type":"nominal","scale":{"domain":["Ctrl","Dox","hAFS-CM + Dox","hMSC-CM + Dox","hAFS-CM","hMSC-CM"],"range":["circle","circle","circle","circle","triangle-up","triangle-up"]},"legend":null}}},
  {"transform": [{"filter": "datum.k=='b'"}], "mark": {"type": "rule", "color": "#000", "strokeWidth": 1.4}, "encoding": {"x": {"field": "g", "type": "nominal", "bandPosition": 0.5}, "x2": {"field": "g2", "bandPosition": 0.5}}},
  {"transform": [{"filter": "datum.k=='b'"}], "mark": {"type": "point", "shape": "M0,-1V1", "size": 30, "strokeWidth": 1.4, "color": "#000", "filled": false, "opacity": 1}},
  {"transform": [{"filter": "datum.k=='b'"}], "mark": {"type": "point", "shape": "M0,-1V1", "size": 30, "strokeWidth": 1.4, "color": "#000", "filled": false, "opacity": 1}, "encoding": {"x": {"field": "g2", "type": "nominal"}}},
  {"transform": [{"filter": "datum.k=='s'"}], "mark": {"type": "text", "fontSize": 6.5, "color": "#808080", "baseline": "middle"}, "encoding": {"text": {"field": "t"}}},
  {"transform": [{"filter": "datum.k=='a'"}], "mark": {"type": "text", "fontSize": 7, "color": "#505050", "baseline": "middle"}, "encoding": {"x": {"field": "g", "type": "nominal", "bandPosition": 1.18}, "text": {"field": "t"}}}
 ]}
]}
]},
{"width": 1, "height": 1, "data": {"name": "d"}, "transform": [{"filter": "datum.p=='O2' && datum.k=='p'"}],
 "mark": {"type": "point", "filled": true, "opacity": 0, "size": 1, "stroke": "#1a1a1a", "strokeWidth": 0.5},
 "encoding": {
  "color": {"field": "g", "type": "nominal", "scale": {"domain": ["Ctrl","Dox","hAFS-CM + Dox","hMSC-CM + Dox","hAFS-CM","hMSC-CM"], "range": ["#707070","#111111","#a63aa9","#2f4f86","#2a1424","#1c2433"]},
   "legend": {"orient": "none", "legendX": 104, "legendY": 3, "direction": "horizontal", "columns": 6, "title": null, "symbolSize": 16, "symbolOpacity": 1, "symbolStrokeColor": "#1a1a1a", "symbolStrokeWidth": 0.5, "labelFont": "Liberation Sans", "labelFontSize": 8.5, "labelColor": "#333333", "labelOffset": 3, "columnPadding": 13, "padding": 0}},
  "shape": {"field": "g", "type": "nominal", "scale": {"domain": ["Ctrl","Dox","hAFS-CM + Dox","hMSC-CM + Dox","hAFS-CM","hMSC-CM"], "range": ["circle","circle","circle","circle","triangle-up","triangle-up"]},
   "legend": {"orient": "none", "legendX": 104, "legendY": 3, "direction": "horizontal", "columns": 6, "title": null, "symbolSize": 16, "symbolOpacity": 1, "symbolStrokeColor": "#1a1a1a", "symbolStrokeWidth": 0.5, "labelFont": "Liberation Sans", "labelFontSize": 8.5, "labelColor": "#333333", "labelOffset": 3, "columnPadding": 13, "padding": 0}}
 }},
{"width": 508, "height": 112, "data": {"name": "c"},
 "encoding": {"x": {"datum": 0, "type": "quantitative", "scale": {"domain": [0, 1]}, "axis": null},
  "y": {"field": "n", "type": "ordinal", "scale": {"type": "point", "padding": 0}, "axis": null},
  "text": {"field": "s"}},
 "layer": [
  {"transform": [{"filter": "datum.w=='b'"}], "mark": {"type": "text", "align": "left", "baseline": "middle", "font": "Liberation Serif", "fontSize": 9.9, "fontWeight": "bold", "color": "#1a1a1a"}},
  {"transform": [{"filter": "datum.w=='f'"}], "mark": {"type": "text", "align": "left", "baseline": "middle", "font": "Liberation Serif", "fontSize": 9.9, "color": "#1a1a1a", "dx": 40.5}},
  {"transform": [{"filter": "datum.w=='r'"}], "mark": {"type": "text", "align": "left", "baseline": "middle", "font": "Liberation Serif", "fontSize": 9.9, "color": "#1a1a1a"}}
 ]}
],
"config": {
 "view": {"stroke": null},
 "font": "Liberation Sans",
 "axis": {"grid": false, "domainColor": "#000", "domainWidth": 1.4, "tickColor": "#000", "tickWidth": 1.4, "tickSize": 4, "labelFont": "Liberation Sans", "labelFontSize": 8, "labelFontWeight": "bold", "labelColor": "#000", "labelPadding": 1.5, "titleFont": "Liberation Sans", "titleFontSize": 7.5, "titleFontWeight": "normal", "titleColor": "#000", "titlePadding": 5}
}
}
